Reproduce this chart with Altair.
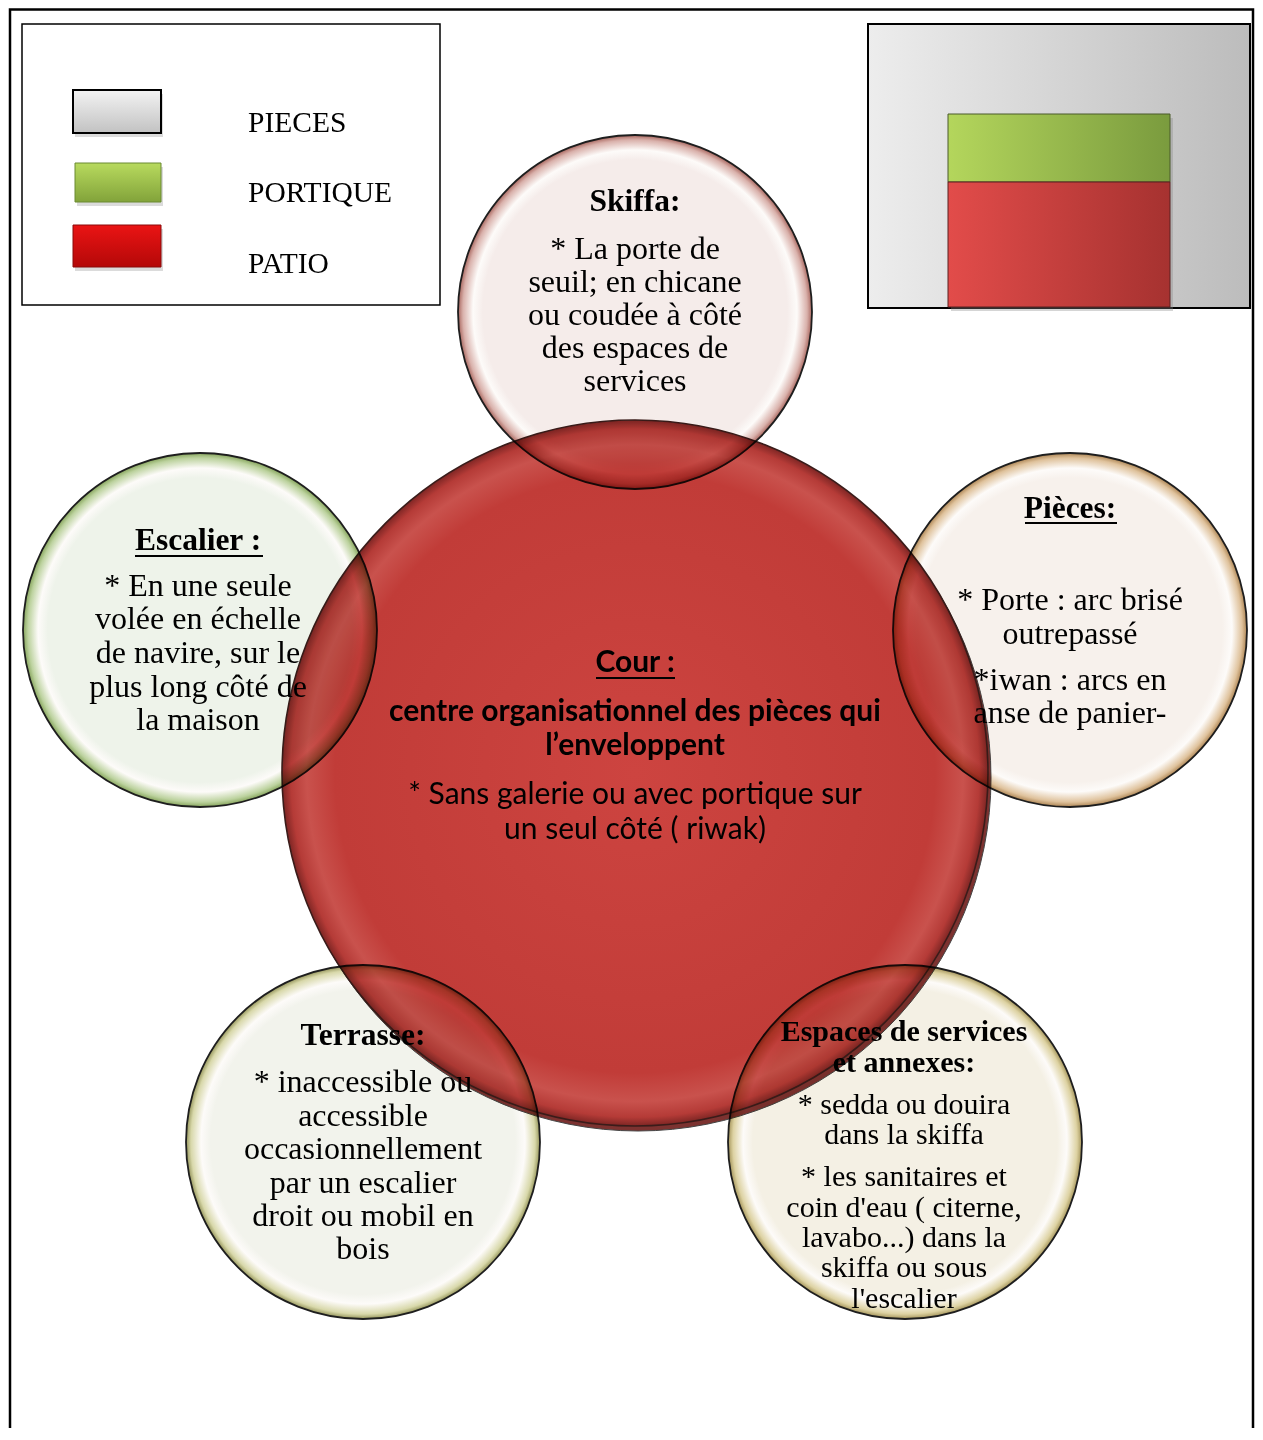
import altair as alt
import pandas as pd

# ---------------- data ----------------
legend_labels = ["PIECES", "PORTIQUE", "PATIO"]
legend_y = [123, 193, 264]
legend_x = [248, 248, 248]

circle_names = ["Skiffa", "Escalier", "Pièces", "Terrasse", "Espaces"]
circle_cx = [635, 200, 1070, 363, 905]
circle_cy = [312, 630, 630, 1142, 1142]
circle_center_col = ["#f5ecea", "#eef3ea", "#f7f1ec", "#f2f3ec", "#f4f0e4"]
circle_rim_col = ["#d9b1ab", "#bcd29e", "#dfc29c", "#d8d8aa", "#ddd2a2"]
circle_edge_col = ["#a8665e", "#86a45c", "#ad8554", "#94945a", "#a4945a"]

cour_cx = [635]
cour_cy = [773]

# text blocks: lines and line centres
skiffa_title = ["Skiffa:"]
skiffa_title_y = [202]
skiffa_lines = ["* La porte de", "seuil; en chicane", "ou coudée à côté", "des espaces de", "services"]
skiffa_y = [249, 282, 315, 348, 381]

escalier_title = ["Escalier :"]
escalier_title_y = [541]
escalier_lines = ["* En une seule", "volée en échelle", "de navire, sur le", "plus long côté de", "la maison"]
escalier_y = [586, 619, 653, 687, 720]

pieces_title = ["Pièces:"]
pieces_title_y = [509]
pieces_lines = ["* Porte : arc brisé", "outrepassé", "*iwan : arcs en", "anse de panier-"]
pieces_y = [600, 634, 680, 713]

terrasse_title = ["Terrasse:"]
terrasse_title_y = [1036]
terrasse_lines = ["* inaccessible ou", "accessible", "occasionnellement", "par un escalier", "droit ou mobil en", "bois"]
terrasse_y = [1082, 1116, 1149, 1183, 1216, 1249]

espaces_title = ["Espaces de services", "et annexes:"]
espaces_title_y = [1032, 1063]
espaces_lines = ["* sedda ou douira", "dans la skiffa", "* les sanitaires et", "coin d'eau ( citerne,",
                 "lavabo...) dans la", "skiffa ou sous", "l'escalier"]
espaces_y = [1105, 1135, 1177, 1208, 1238, 1268, 1299]

cour_title = ["Cour :"]
cour_title_y = [663]
cour_bold = ["centre organisationnel des pièces qui", "l’enveloppent"]
cour_bold_y = [712, 746]
cour_lines = ["* Sans galerie ou avec portique sur", "un seul côté ( riwak)"]
cour_lines_y = [795, 830]

underline_x1 = [596, 135, 1025]
underline_x2 = [675, 263, 1117]
underline_y = [678, 556, 523]

# ---------------- scales ----------------
W, H = 1247, 1420
xs = alt.Scale(domain=[8, 8 + W], nice=False, zero=False)
ys = alt.Scale(domain=[8, 8 + H], nice=False, zero=False, reverse=True)


def X(f):
    return alt.X(f, type="quantitative", scale=xs, axis=None)


def Y(f):
    return alt.Y(f, type="quantitative", scale=ys, axis=None)


def rect(x1, x2, y1, y2, **mk):
    df = pd.DataFrame({"x1": [x1], "x2": [x2], "y1": [y1], "y2": [y2]})
    return alt.Chart(df).mark_rect(**mk).encode(
        x=X("x1"), x2=alt.X2("x2"), y=Y("y1"), y2=alt.Y2("y2"))


def lin(c1, c2, horizontal=False):
    return {"gradient": "linear", "stops": [{"offset": 0, "color": c1}, {"offset": 1, "color": c2}],
            "x1": 0, "y1": 0, "x2": 1 if horizontal else 0, "y2": 0 if horizontal else 1}


def radial(stops):
    return {"gradient": "radial", "x1": 0.5, "y1": 0.5, "r1": 0, "x2": 0.5, "y2": 0.5, "r2": 0.5,
            "stops": [{"offset": o, "color": c} for o, c in stops]}


layers = []

# outer frame
layers.append(rect(10, 1253, 9.5, 1500, fill=None, stroke="black", strokeWidth=2.5, filled=False))

# legend box
layers.append(rect(22, 440, 24, 305, fill="white", stroke="black", strokeWidth=1.5))
for (x1, y1, y2) in [(73, 90, 133), (75, 163, 202), (73, 225, 267)]:
    layers.append(rect(x1 + 2, 163, y1 + 4, y2 + 4, fill="#999999", opacity=0.35))
layers.append(rect(73, 161, 90, 133, fill=lin("#f3f3f3", "#c2c2c2"), stroke="black", strokeWidth=2))
layers.append(rect(75, 161, 163, 202, fill=lin("#b8da5e", "#82a33a"), stroke="#6a8a32", strokeWidth=1))
layers.append(rect(73, 161, 225, 267, fill=lin("#ea1414", "#b40808"), stroke="#8a0a0a", strokeWidth=1))

legend_df = pd.DataFrame({"x": legend_x, "y": legend_y, "t": legend_labels})
layers.append(alt.Chart(legend_df).mark_text(font="Liberation Serif", fontSize=29.5, align="left",
                                             baseline="middle", color="black")
              .encode(x=X("x"), y=Y("y"), text="t:N"))

# top-right box
layers.append(rect(868, 1250, 24, 308, fill=lin("#ededed", "#bcbcbc", True), stroke="black", strokeWidth=2))
layers.append(rect(951, 1173, 118, 311, fill="#888888", opacity=0.35))
layers.append(rect(948, 1170, 114, 182, fill=lin("#b4d65c", "#7a9b3e", True), stroke="#4a5a2a", strokeWidth=1))
layers.append(rect(948, 1170, 182, 307, fill=lin("#e24c4a", "#a63230", True), stroke="#5a2020", strokeWidth=1))

# main circle (shadow + body)
D_MAIN = 706
main_df = pd.DataFrame({"x": cour_cx, "y": cour_cy})
shadow_df = pd.DataFrame({"x": [cour_cx[0] + 3], "y": [cour_cy[0] + 5]})
layers.append(alt.Chart(shadow_df).mark_point(shape="circle", filled=True, size=D_MAIN ** 2, fill="#7c3230",
                                              stroke="#444444", strokeWidth=1, opacity=1)
              .encode(x=X("x"), y=Y("y")))
layers.append(alt.Chart(main_df).mark_point(
    shape="circle", filled=True, size=D_MAIN ** 2, opacity=1,
    fill=radial([(0, "#cd4440"), (0.85, "#c13c38"), (0.93, "#c9524d"), (0.975, "#b53b37"), (1, "#7e2624")]),
    stroke="#3a1c1a", strokeWidth=1.6).encode(x=X("x"), y=Y("y")))

# small circles, multiplied over the main circle
D_SMALL = 354
for i, name in enumerate(circle_names):
    df = pd.DataFrame({"x": [circle_cx[i]], "y": [circle_cy[i]], "n": [name]})
    layers.append(alt.Chart(df).mark_point(
        shape="circle", filled=True, size=D_SMALL ** 2, opacity=1, blend="multiply",
        fill=radial([(0, circle_center_col[i]), (0.86, circle_center_col[i]), (0.915, "#fdfbf9"),
                     (0.972, circle_rim_col[i]), (1, circle_edge_col[i])]),
        stroke="#1e1e1e", strokeWidth=1.8).encode(x=X("x"), y=Y("y")))

# texts
rows = []


def add(style, x, lines, ys_):
    for t, y in zip(lines, ys_):
        rows.append({"style": style, "x": x, "y": y, "t": t})


add("serif_b", circle_cx[0], skiffa_title, skiffa_title_y)
add("serif", circle_cx[0], skiffa_lines, skiffa_y)
add("serif_b", 198, escalier_title, escalier_title_y)
add("serif", 198, escalier_lines, escalier_y)
add("serif_b", circle_cx[2], pieces_title, pieces_title_y)
add("serif", circle_cx[2], pieces_lines, pieces_y)
add("serif_b", circle_cx[3], terrasse_title, terrasse_title_y)
add("serif", circle_cx[3], terrasse_lines, terrasse_y)
add("serif_bs", 904, espaces_title, espaces_title_y)
add("serif_s", 904, espaces_lines, espaces_y)
add("sans_b", cour_cx[0], cour_title, cour_title_y)
add("sans_b", cour_cx[0], cour_bold, cour_bold_y)
add("sans", cour_cx[0], cour_lines, cour_lines_y)
text_df = pd.DataFrame(rows)

styles = {
    "serif": ("Liberation Serif", 32, "normal"),
    "serif_b": ("Liberation Serif", 31.5, "bold"),
    "serif_s": ("Liberation Serif", 30, "normal"),
    "serif_bs": ("Liberation Serif", 30, "bold"),
    "sans_b": ("Lato", 30, "bold"),
    "sans": ("Lato", 30, "normal"),
}
for st, (font, size, weight) in styles.items():
    layers.append(alt.Chart(text_df).transform_filter(alt.datum.style == st).mark_text(
        font=font, fontSize=size, fontWeight=weight, align="center", baseline="middle", color="black")
        .encode(x=X("x"), y=Y("y"), text="t:N"))

ul_df = pd.DataFrame({"x1": underline_x1, "x2": underline_x2, "y": underline_y})
layers.append(alt.Chart(ul_df).mark_rule(color="black", strokeWidth=2)
              .encode(x=X("x1"), x2=alt.X2("x2"), y=Y("y")))

chart = alt.layer(*layers).properties(width=W, height=H, padding=0, autosize="none",
                                       background="white").configure_view(stroke=None)

chart.save("out.html", embed_options={"renderer": "svg", "actions": False})
